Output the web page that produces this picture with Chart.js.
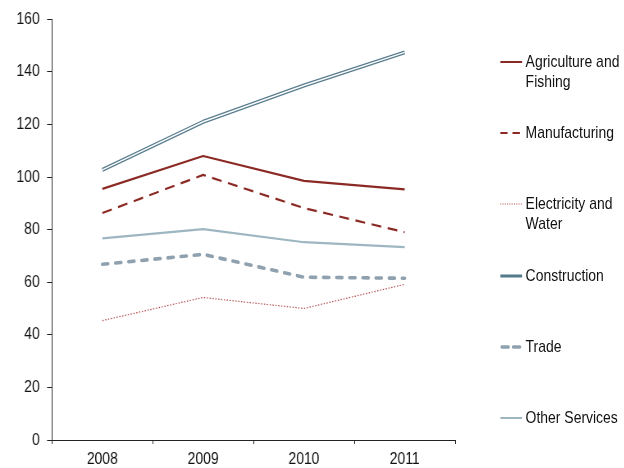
<!DOCTYPE html>
<html>
<head>
<meta charset="utf-8">
<script src="https://cdn.jsdelivr.net/npm/chart.js@4.4.1/dist/chart.umd.min.js"></script>
<style>
  html, body { margin: 0; padding: 0; background: #fff; overflow: hidden; }
  #wrap { position: absolute; left: 0; top: 0; width: 761px; height: 476px; transform: scaleX(0.82); transform-origin: 0 0; }
  #chart { position: absolute; left: 0; top: 0; }
  #legend { position: absolute; left: 0; top: 0; width: 761px; height: 468px; pointer-events: none; }
  .item { position: absolute; left: 610px; font-family: "Liberation Sans", Arial, sans-serif; font-size: 17px; line-height: 20px; color: #111; display: flex; align-items: flex-start; }
  .item svg { flex: none; margin-top: 4px; }
  .item span { margin-left: 4px; white-space: pre-line; }
</style>
</head>
<body>
<div id="wrap">
  <canvas id="chart" width="761" height="476"></canvas>
  <div id="legend"></div>
</div>
<script>
const categories = ["2008", "2009", "2010", "2011"];
const agriculture = [95.5, 108, 98.5, 95.3];
const manufacturing = [86.3, 100.8, 88.2, 79];
const electricity = [45.4, 54.2, 50, 59.2];
const construction = [102.7, 121, 134.8, 147.4];
const trade = [66.8, 70.6, 61.9, 61.5];
const otherServices = [76.7, 80.2, 75.2, 73.3];
const seriesNames = ["Agriculture and\nFishing", "Manufacturing", "Electricity and\nWater", "Construction", "Trade", "Other Services"];
const yTicks = [0, 20, 40, 60, 80, 100, 120, 140, 160];

const FONT = "'Liberation Sans', Arial, sans-serif";

const styles = [
  { color: "#8b2a24", width: 2.2, dash: [] },
  { color: "#8b2a24", width: 2.2, dash: [12, 8] },
  { color: "#b04848", width: 1.2, dash: [1.5, 2] },
  { color: "#557a8c", width: 4.0, dash: [] },
  { color: "#8fa1ae", width: 3.6, dash: [7, 9], cap: "round" },
  { color: "#9db6c1", width: 2.2, dash: [] }
];
const values = [agriculture, manufacturing, electricity, construction, trade, otherServices];

const datasets = values.map((v, i) => ({
  label: seriesNames[i].replace("\n", " "),
  data: v,
  borderColor: styles[i].color,
  backgroundColor: styles[i].color,
  borderWidth: styles[i].width,
  borderDash: styles[i].dash,
  borderCapStyle: styles[i].cap || "butt",
  borderJoinStyle: "round",
  pointRadius: 0,
  tension: 0,
  fill: false,
  order: i
}));
// inner white stroke for the double-line Construction series (drawn on top)
datasets.push({
  label: "_constructionInner",
  data: construction,
  borderColor: "#ffffff",
  borderWidth: 1.4,
  borderJoinStyle: "round",
  pointRadius: 0,
  tension: 0,
  fill: false,
  order: -1
});

new Chart(document.getElementById("chart"), {
  type: "line",
  data: { labels: categories, datasets: datasets },
  options: {
    responsive: false,
    animation: false,
    devicePixelRatio: 1,
    layout: { padding: { left: 11, right: 206, top: 10, bottom: 1 } },
    plugins: { legend: { display: false }, tooltip: { enabled: false } },
    scales: {
      x: {
        type: "category",
        offset: true,
        grid: { display: true, offset: true, drawOnChartArea: false, drawTicks: true, tickLength: 4, color: "#222", lineWidth: 1 },
        border: { display: true, color: "#222", width: 1 },
        ticks: { color: "#111", font: { family: FONT, size: 17, lineHeight: 1 }, padding: 7, maxRotation: 0 }
      },
      y: {
        min: 0, max: 160,
        afterBuildTicks: (axis) => { axis.ticks = yTicks.map(v => ({ value: v })); },
        grid: { display: true, drawOnChartArea: false, drawTicks: true, tickLength: 6, color: "#222", lineWidth: 1 },
        border: { display: true, color: "#222", width: 1 },
        ticks: { color: "#111", font: { family: FONT, size: 17, lineHeight: 1.2 }, padding: 9 }
      }
    }
  }
});

// HTML legend
const legend = document.getElementById("legend");
seriesNames.forEach((name, i) => {
  const s = styles[i];
  const div = document.createElement("div");
  div.className = "item";
  div.style.top = (52 + i * 71.2) + "px";
  const w = 27;
  const lw = i === 3 ? 3.2 : s.width;
  const dash = i === 1 ? "9 6" : i === 4 ? "8 6" : i === 2 ? "1.2 1.6" : "";
  div.innerHTML = `<svg width="${w}" height="12"><line x1="${i === 4 ? 2 : 0}" y1="6" x2="${i === 4 ? w - 2 : w}" y2="6" stroke="${s.color}" stroke-width="${lw}" ${dash ? `stroke-dasharray="${dash}"` : ""} ${i === 4 ? 'stroke-linecap="round"' : ''}/></svg><span></span>`;
  div.querySelector("span").textContent = name;
  legend.appendChild(div);
});
</script>
</body>
</html>
